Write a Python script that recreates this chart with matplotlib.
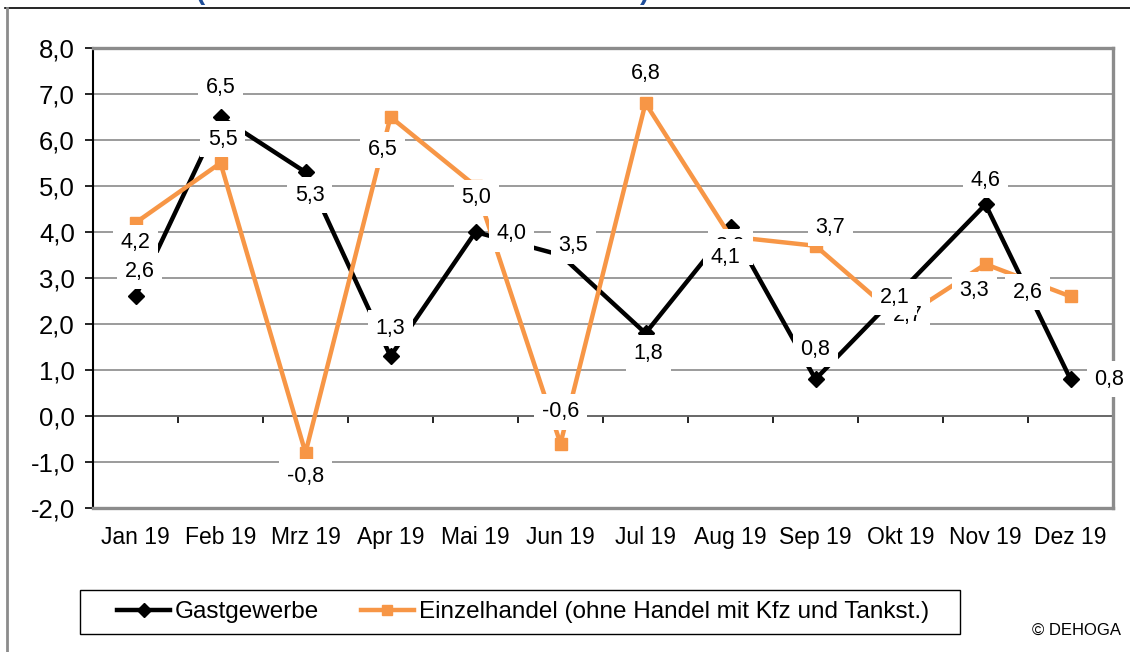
import matplotlib
matplotlib.use("Agg")
import matplotlib.pyplot as plt
from matplotlib.lines import Line2D
from matplotlib.patches import Rectangle
import numpy as np

plt.rcParams['font.family'] = ['Liberation Sans', 'DejaVu Sans']

months = ["Jan 19", "Feb 19", "Mrz 19", "Apr 19", "Mai 19", "Jun 19",
          "Jul 19", "Aug 19", "Sep 19", "Okt 19", "Nov 19", "Dez 19"]
gastgewerbe = [2.6, 6.5, 5.3, 1.3, 4.0, 3.5, 1.8, 4.1, 0.8, 2.7, 4.6, 0.8]
einzelhandel = [4.2, 5.5, -0.8, 6.5, 5.0, -0.6, 6.8, 3.9, 3.7, 2.1, 3.3, 2.6]
yticks = [-2, -1, 0, 1, 2, 3, 4, 5, 6, 7, 8]
series_names = ["Gastgewerbe", "Einzelhandel (ohne Handel mit Kfz und Tankst.)"]

# label offsets in pixels (dx, dy; dy positive = up)
off_g = [(4, 25), (0, 30), (4, -23), (0, 28), (36, -2), (13, 9),
         (3, -20), (-5, -30), (0, 30), (7, -24), (0, 24), (39, 0)]
off_e = [(0, -20), (2, 24), (0, -24), (-8, -33), (1, -12), (0, 32),
         (0, 30), (0, -10), (15, 18), (-6, 22), (-11, -26), (-43, 4)]
z_g = [6, 6, 6, 6, 6, 6, 6, 8, 6, 6, 6, 6]
z_e = [7] * 12

BLACK = "#000000"
ORANGE = "#F79646"
GRID = "#808080"

fig = plt.figure(figsize=(11.30, 6.52), dpi=100)
ax = fig.add_axes([93/1130, 1-508/652, (1113-93)/1130, (508-48)/652])

x = np.arange(len(months))
ax.plot(x, gastgewerbe, color=BLACK, lw=3.2, marker="D", ms=8.5,
        zorder=3, label=series_names[0])
ax.plot(x, einzelhandel, color=ORANGE, lw=3.2, marker="s", ms=9,
        zorder=4, label=series_names[1])

def fmt(v):
    return f"{v:.1f}".replace(".", ",")

for i in range(len(x)):
    ax.annotate(fmt(gastgewerbe[i]), (x[i], gastgewerbe[i]),
                xytext=off_g[i], textcoords="offset pixels",
                ha="center", va="center", fontsize=15.5, color="black",
                zorder=z_g[i],
                bbox=dict(boxstyle="square,pad=0.35", fc="white", ec="none"))
    ax.annotate(fmt(einzelhandel[i]), (x[i], einzelhandel[i]),
                xytext=off_e[i], textcoords="offset pixels",
                ha="center", va="center", fontsize=15.5, color="black",
                zorder=z_e[i],
                bbox=dict(boxstyle="square,pad=0.35", fc="white", ec="none"))

ax.set_xlim(-0.5, len(months) - 0.5)
ax.set_ylim(-2, 8)
ax.set_yticks(yticks)
ax.set_yticklabels([fmt(v) for v in yticks], fontsize=18.5)
ax.yaxis.grid(True, color=GRID, lw=1.1)
ax.set_axisbelow(True)
ax.tick_params(axis="y", length=6, width=1.2, direction="out", pad=7, color="black")

ax.set_xticks(x)
ax.set_xticklabels(months, fontsize=16.5)
ax.tick_params(axis="x", length=0, pad=13)

for s in ["top", "right", "bottom"]:
    ax.spines[s].set_color("#8c8c8c")
    ax.spines[s].set_linewidth(2.4)
ax.spines["left"].set_color("black")
ax.spines["left"].set_linewidth(1.5)

# category axis crossing at zero with boundary ticks
sec = ax.secondary_xaxis(0.2)
sec.set_xticks(np.arange(-0.5, len(months), 1.0))
sec.set_xticklabels([])
sec.tick_params(length=5, width=1.2, direction="out", color="black")
sec.spines["bottom"].set_color("black")
sec.spines["bottom"].set_linewidth(1.2)

leg = fig.legend(loc="center", bbox_to_anchor=(523/1130, 1-612/652),
                 ncol=2, fontsize=17.5, frameon=False,
                 handlelength=2.2, handletextpad=0.2, columnspacing=1.7,
                 borderpad=0.3, markerscale=0.8)
fig.add_artist(Rectangle((80/1130, 1-634/652), 880/1130, 44/652,
                         transform=fig.transFigure, fill=False,
                         edgecolor="black", lw=1.0))

fig.text(1077/1130, 1-630/652, "© DEHOGA", fontsize=12, ha="center", va="center")

# outer slide frame
fig.add_artist(Line2D([5/1130, 1], [1-8/652, 1-8/652], color="black", lw=1.2,
                      transform=fig.transFigure))
fig.add_artist(Line2D([7/1130, 7/1130], [0, 1-8/652], color="#8c8c8c", lw=2,
                      transform=fig.transFigure))
# partially visible title brackets
fig.text(200/1130, 1+8/652, "(", fontsize=20, color="#1F4E99",
         fontweight="bold", ha="center", va="center")
fig.text(645/1130, 1+8/652, ")", fontsize=20, color="#1F4E99",
         fontweight="bold", ha="center", va="center")

fig.savefig("out.png", dpi=100)
